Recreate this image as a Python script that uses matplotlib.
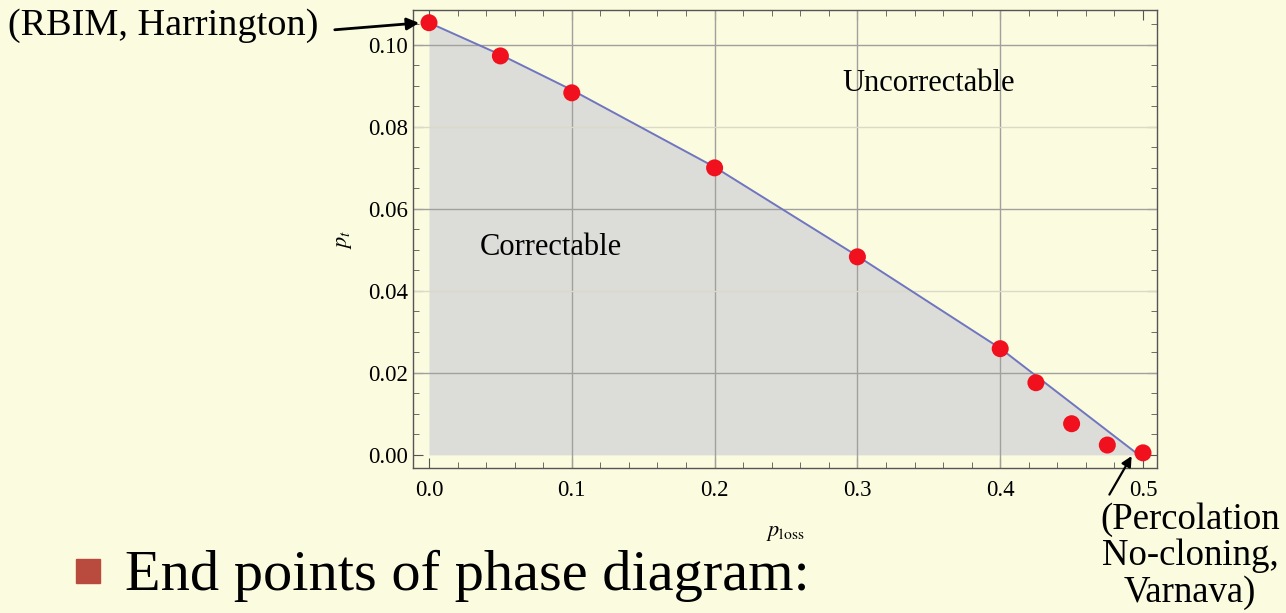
import numpy as np
import matplotlib
matplotlib.use("Agg")
import matplotlib.pyplot as plt
from matplotlib.ticker import MultipleLocator

# threshold points (red dots)
p_loss = [0.0, 0.05, 0.1, 0.2, 0.3, 0.4, 0.425, 0.45, 0.475, 0.5]
p_t = [0.1054, 0.0973, 0.0883, 0.0700, 0.0483, 0.0259, 0.0176, 0.0076, 0.0024, 0.0005]

# boundary curve
curve_x = [0.0, 0.05, 0.1, 0.2, 0.3, 0.4, 0.497]
curve_y = [0.1054, 0.0976, 0.0890, 0.0702, 0.0485, 0.0260, 0.0]

xticks = [0.0, 0.1, 0.2, 0.3, 0.4, 0.5]
yticks = [0.00, 0.02, 0.04, 0.06, 0.08, 0.10]
grid_x = [0.1, 0.2, 0.3, 0.4]
grid_y = [0.02, 0.06, 0.10]
grid_y_faint = [0.04, 0.08]

bg = "#fbfbdf"
W, H = 1286, 613

plt.rcParams["font.family"] = ["Liberation Serif", "DejaVu Serif"]
plt.rcParams["mathtext.fontset"] = "stix"

fig = plt.figure(figsize=(W / 100, H / 100), dpi=100, facecolor=bg)
ax = fig.add_axes([413 / W, 1 - 468 / H, (1157 - 413) / W, (468 - 10) / H])
ax.set_facecolor(bg)

ax.fill_between(curve_x, 0, curve_y, color="#dcdcd8", zorder=1, lw=0)
for gx in grid_x:
    ax.axvline(gx, color="#a0a09c", lw=1.0, zorder=2)
for gy in grid_y:
    ax.axhline(gy, color="#a0a09c", lw=1.0, zorder=2)
for gy in grid_y_faint:
    ax.axhline(gy, color="#dadac6", lw=1.0, zorder=2)
ax.plot(curve_x, curve_y, color="#7075c0", lw=1.4, zorder=3)
ax.scatter(p_loss, p_t, s=150, color="#f0101e", zorder=4, edgecolors="none")

ax.set_xlim(-0.0112, 0.5098)
ax.set_ylim(-0.0032, 0.1085)
ax.set_xticks(xticks)
ax.set_yticks(yticks)
ax.xaxis.set_major_formatter(plt.FuncFormatter(lambda v, _: f"{v:.1f}"))
ax.yaxis.set_major_formatter(plt.FuncFormatter(lambda v, _: f"{v:.2f}"))
ax.xaxis.set_minor_locator(MultipleLocator(0.02))
ax.yaxis.set_minor_locator(MultipleLocator(0.005))
ax.tick_params(which="both", direction="in", top=True, right=True, labelsize=16.5, color="#555555")
ax.tick_params(which="major", length=7)
ax.tick_params(which="minor", length=4)
ax.tick_params(axis="x", pad=9)
for s in ax.spines.values():
    s.set_color("#555555")
    s.set_linewidth(1.0)

ax.set_xlabel(r"$p_{\mathrm{loss}}$", fontsize=16, labelpad=16)
ax.set_ylabel(r"$p_t$", fontsize=16, labelpad=10)

ax.text(0.085, 0.0505, "Correctable", fontsize=22, ha="center", va="center", zorder=5)
ax.text(0.35, 0.0905, "Uncorrectable", fontsize=22, ha="center", va="center", zorder=5)

fig.text(8 / W, 1 - 26 / H, "(RBIM, Harrington)", fontsize=27.5, ha="left", va="center")
ax.annotate("", xy=(-0.005, 0.1054), xytext=(332, H - 30), textcoords="figure pixels",
            arrowprops=dict(arrowstyle="-|>", color="black", lw=2, mutation_scale=18),
            annotation_clip=False)
ax.annotate("", xy=(0.493, 0.0003), xytext=(1108, H - 497), textcoords="figure pixels",
            arrowprops=dict(arrowstyle="-|>", color="black", lw=1.6, mutation_scale=15),
            annotation_clip=False)
fig.text(1190 / W, 1 - 556 / H, "(Percolation\nNo-cloning,\nVarnava)", fontsize=26.5,
         ha="center", va="center", linespacing=1.08)

fig.patches.append(plt.Rectangle((76 / W, 1 - 583 / H), 24 / W, 24 / H, transform=fig.transFigure,
                                 color="#b84a3e", figure=fig))
fig.text(125 / W, 1 - 576 / H, "End points of phase diagram:", fontsize=42, ha="left", va="center")

fig.savefig("out.png", dpi=100, facecolor=bg)
